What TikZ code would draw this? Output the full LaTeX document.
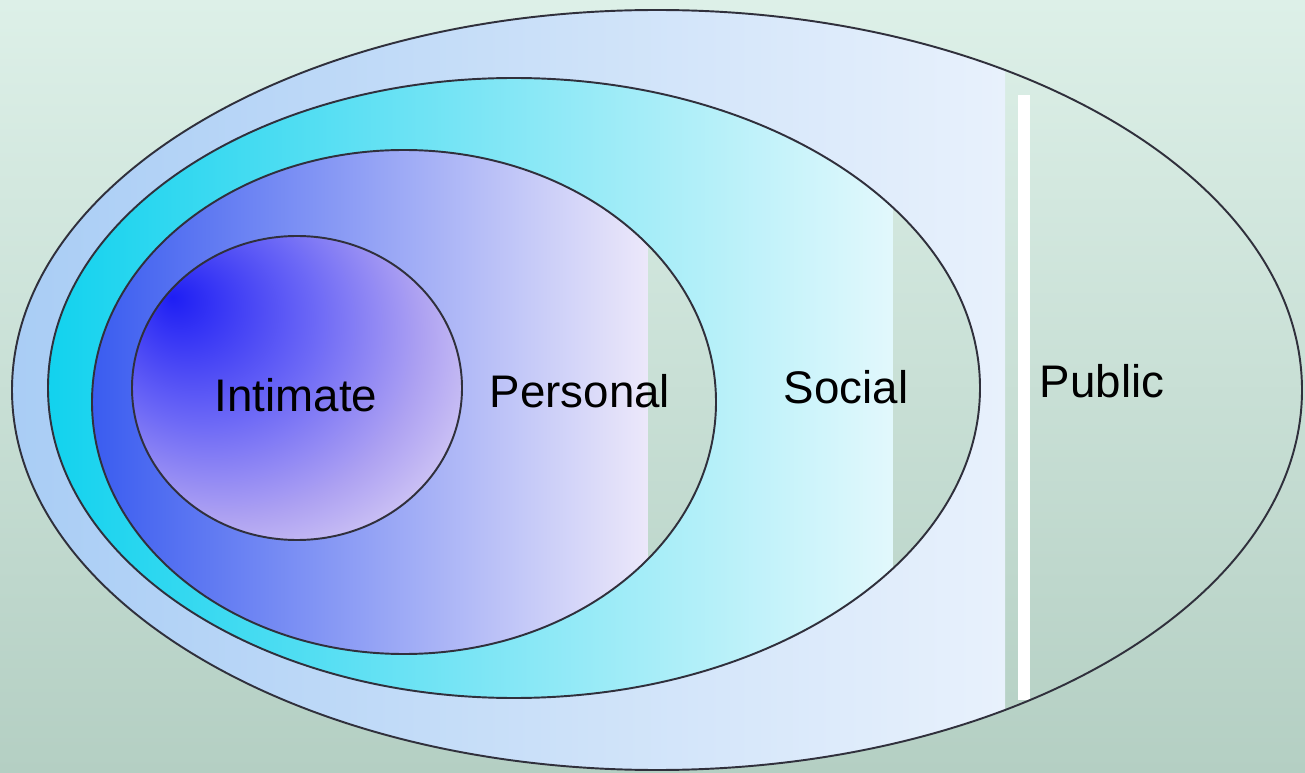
\documentclass[tikz,border=0pt]{standalone}
\usepackage{fontspec}
\setmainfont{Liberation Sans}
\definecolor{bgtop}{HTML}{DDF0E8}
\definecolor{bgbot}{HTML}{B4CFC3}
\definecolor{pubL}{HTML}{A9CDF5}
\definecolor{pubR}{HTML}{E8F1FC}
\definecolor{socL}{HTML}{12D2EE}
\definecolor{socR}{HTML}{E2F8FC}
\definecolor{perL}{HTML}{3A5CF0}
\definecolor{perM}{HTML}{92AAF6}
\definecolor{perR}{HTML}{ECE8FA}
\definecolor{intA}{HTML}{1E1EF4}
\definecolor{intB}{HTML}{6C68F6}
\definecolor{intM}{HTML}{AEA2F2}
\definecolor{intC}{HTML}{E6DEF6}
\definecolor{rim}{HTML}{30303C}
\pgfdeclareradialshading{intimateshade}{\pgfpoint{-19bp}{15bp}}{color(0bp)=(intA); color(17bp)=(intB); color(30bp)=(intM); color(43bp)=(intC); color(70bp)=(intC)}
\tikzset{
  every picture/.style={line width=1.1pt},
  rimline/.style={draw=rim, line width=1.1pt},
  bgshade/.style={top color=bgtop, bottom color=bgbot},
  zonelabel/.style={font=\fontsize{26}{30}\selectfont, text=black, anchor=base, inner sep=0pt},
}

\begin{document}
\begin{tikzpicture}[x=0.02cm, y=-0.02cm]
  \useasboundingbox (0,0) rectangle (1305,773);
  \shade[bgshade] (0,0) rectangle (1305,773);
  % public
  \begin{scope}
    \clip (657,390) ellipse [x radius=645, y radius=380];
    \shade[left color=pubL, right color=pubR] (12,0) rectangle (1005,773);
    \fill[white] (1018,95) rectangle (1030,700);
  \end{scope}
  \draw[rimline] (657,390) ellipse [x radius=645, y radius=380];
  % social
  \begin{scope}
    \clip (514,388) ellipse [x radius=466, y radius=310];
    \shade[left color=socL, right color=socR] (48,0) rectangle (893,773);
    \shade[bgshade] (893,0) rectangle (1305,773);
  \end{scope}
  \draw[rimline] (514,388) ellipse [x radius=466, y radius=310];
  % personal
  \begin{scope}
    \clip (404,402) ellipse [x radius=312, y radius=252];
    \shade[left color=perL, middle color=perM, right color=perR] (92,0) rectangle (648,773);
    \shade[bgshade] (648,0) rectangle (1305,773);
  \end{scope}
  \draw[rimline] (404,402) ellipse [x radius=312, y radius=252];
  % intimate
  \shade[shading=intimateshade] (297,388) ellipse [x radius=165, y radius=152];
  \draw[rimline] (297,388) ellipse [x radius=165, y radius=152];
  \node[zonelabel] (intimate) at (296,412) {Intimate};
  \node[zonelabel] (personal) at (580,408) {Personal};
  \node[zonelabel] (social) at (846,403) {Social};
  \node[zonelabel] (public) at (1102,398) {Public};
\end{tikzpicture}
\end{document}
